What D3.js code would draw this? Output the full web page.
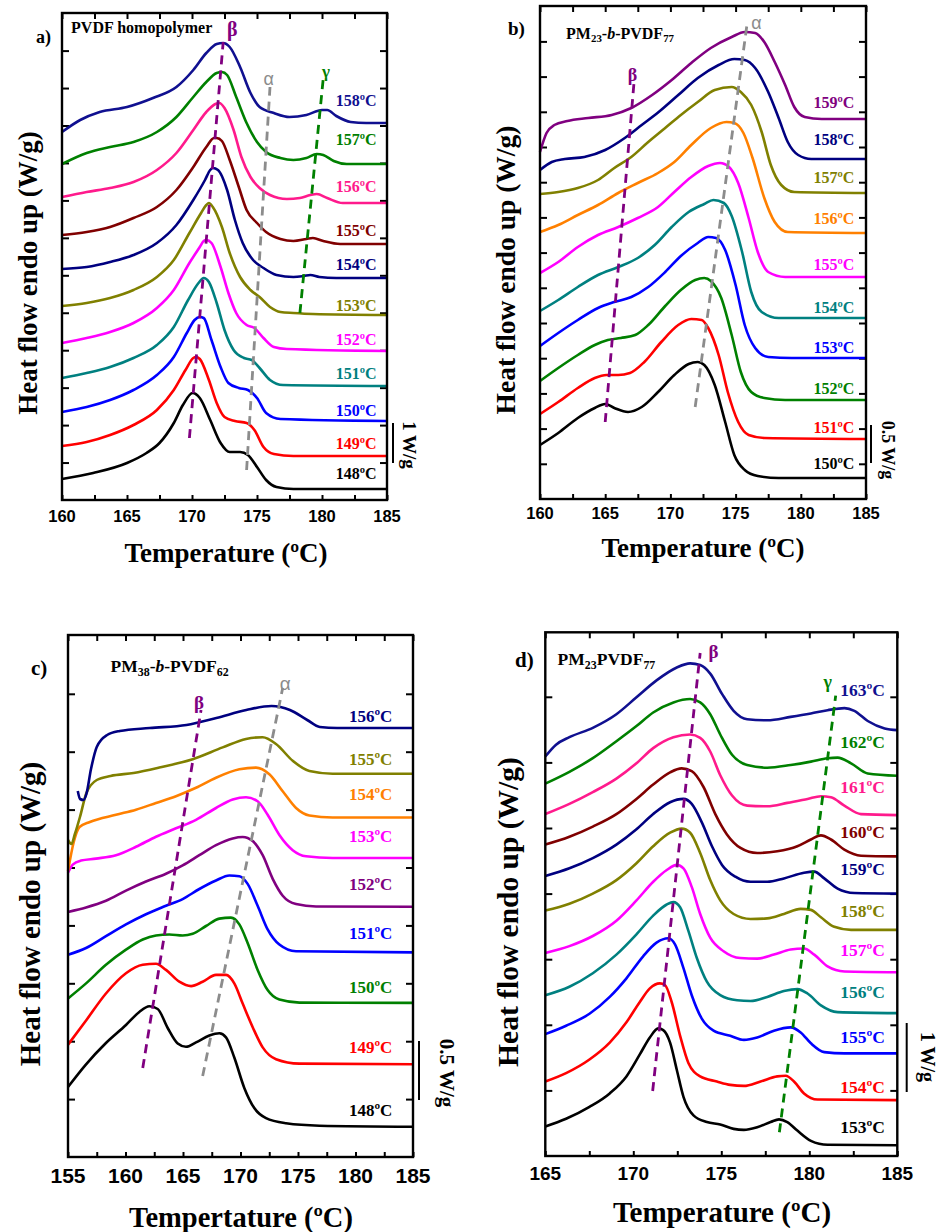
<!DOCTYPE html>
<html><head><meta charset="utf-8">
<script src="https://cdn.jsdelivr.net/npm/d3@7"></script>
<style>
body{margin:0;background:#fff}
svg{display:block}
text{font-family:"Liberation Serif","Times New Roman",serif;font-weight:bold}
</style>
</head><body>
<svg id="c" width="941" height="1232"></svg>
<script>
// ===== DATA (temperature ºC, heat flow in arbitrary units, 10 units ≈ vertical offsets as read) =====
// Panel a: PVDF homopolymer
const aLabels = ["148ºC","149ºC","150ºC","151ºC","152ºC","153ºC","154ºC","155ºC","156ºC","157ºC","158ºC"];
const a148 = [[160,2.1],[162.4,2.7],[165,3.7],[166.5,4.7],[167.5,5.7],[168.6,7.7],[169.3,9.5],[170.05,10.7],[170.6,10.2],[171.4,8.0],[172.2,5.7],[172.9,4.8],[173.7,4.8],[174.3,4.5],[175,3.3],[175.7,2.0],[176.5,1.3],[177.8,1.1],[185,1.1]];
const a149 = [[160,5.4],[161.9,5.8],[163.7,6.5],[165.5,7.5],[167.3,9.0],[168.6,11.0],[169.5,13.0],[170.1,14.2],[170.3,14.3],[170.6,14.1],[171.3,12.0],[171.9,9.7],[172.5,8.3],[173.3,7.9],[174.2,7.7],[174.8,7.0],[175.5,5.3],[176.3,4.6],[177.8,4.4],[185,4.4]];
const a150 = [[160,8.8],[161.9,9.3],[163.7,10.0],[165.5,11.0],[167.3,12.5],[168.6,14.3],[169.6,16.7],[170.2,18.0],[170.6,18.3],[170.9,18.2],[171.5,16.0],[172.2,13.3],[172.8,11.7],[173.6,11.2],[174.3,11.0],[175,10.2],[175.7,8.7],[176.8,8.1],[185,7.9]];
const a151 = [[160,12.2],[161.9,12.7],[163.7,13.3],[165.5,14.2],[167.3,15.5],[168.6,17.3],[169.7,20.0],[170.5,21.7],[170.9,22.2],[171.3,21.8],[171.9,19.7],[172.5,17.0],[173.2,15.0],[174,14.2],[174.6,14.0],[175.2,13.2],[176,12.0],[177,11.5],[185,11.4]];
const a152 = [[160,15.7],[161.9,16.2],[163.7,16.8],[165.5,17.7],[167.3,19.2],[168.6,21.0],[169.8,23.7],[170.6,25.3],[170.9,25.9],[171.1,26.0],[171.5,25.7],[172.2,23.3],[172.8,20.7],[173.4,18.7],[174.2,17.5],[174.8,17.2],[175.5,16.2],[176.3,15.3],[177.3,15.1],[185,14.9]];
const a153 = [[160,19.4],[161.9,19.7],[163.7,20.2],[165.5,21.0],[167.3,22.3],[168.6,24.0],[169.8,26.7],[170.7,28.7],[171.1,29.5],[171.3,29.7],[171.6,29.3],[172.3,27.3],[172.9,24.7],[173.7,22.3],[174.5,21.0],[175.2,20.3],[176,19.3],[176.8,18.8],[177.8,18.7],[179.3,18.6],[185,18.5]];
const a154 = [[160,23.1],[161.9,23.3],[163.7,23.8],[165.5,24.5],[167.3,25.7],[168.8,27.5],[170.1,30.0],[171,32.0],[171.4,33.0],[171.6,33.2],[172,33.0],[172.7,31.0],[173.3,28.0],[173.9,25.7],[174.7,24.0],[175.5,23.2],[176.5,22.5],[177.8,22.3],[178.6,22.4],[179.1,22.5],[179.8,22.3],[181.1,22.2],[185,22.2]];
const a155 = [[160,26.5],[161.9,26.8],[163.7,27.3],[165.5,28.2],[167.3,29.3],[168.8,31.0],[170.1,33.3],[171.1,35.3],[171.7,36.2],[171.9,36.2],[172.3,35.9],[172.9,34.0],[173.6,31.3],[174.2,29.0],[175,27.7],[175.7,26.8],[176.8,26.1],[177.8,25.9],[178.8,26.1],[179.3,26.2],[180.1,25.9],[181.4,25.6],[185,25.6]];
const a156 = [[160,30.3],[161.9,30.8],[163.7,31.2],[165.5,31.8],[167.3,33.0],[168.8,34.7],[170.1,37.0],[171.1,38.8],[171.8,39.6],[172.1,39.7],[172.5,39.2],[173.2,37.0],[173.8,34.3],[174.5,32.3],[175.2,31.2],[176,30.5],[177.3,30.1],[178.3,30.2],[179.1,30.5],[179.6,30.6],[180.4,30.2],[181.6,29.7],[185,29.7]];
const a157 = [[160,33.6],[161.9,34.7],[163.7,35.3],[165.5,35.8],[167.3,36.8],[168.8,38.3],[170.1,40.3],[171.1,41.8],[171.9,42.7],[172.3,42.8],[172.7,42.5],[173.4,40.3],[174.2,37.7],[175,35.8],[175.7,34.8],[176.8,34.2],[177.8,34.0],[178.8,34.2],[179.6,34.6],[180.1,34.5],[180.9,33.9],[181.9,33.6],[185,33.6]];
const a158 = [[160,36.8],[161.4,38.0],[162.9,38.8],[165,39.3],[167,40.2],[168.8,41.3],[170.1,43.0],[171.1,44.7],[171.9,45.6],[172.4,45.7],[172.9,45.3],[173.7,43.3],[174.5,40.7],[175.2,39.3],[176.3,38.7],[177.5,38.3],[178.8,38.5],[180,39.0],[180.4,39.0],[181.1,38.4],[182.2,37.8],[183.4,37.7],[185,37.7]];
const aCurves = [a148,a149,a150,a151,a152,a153,a154,a155,a156,a157,a158];
const aLabelV = [2.7,5.7,9.0,12.7,16.1,19.5,23.6,27.0,31.4,36.1,40.0];
const aGuideBeta = [[169.8,6.2],[172.4,45.8]];
const aGuideAlpha = [[174.2,3.0],[176.0,41.3]];
const aGuideGamma = [[178.3,18.7],[180.1,42.2]];

// Panel b: PM23-b-PVDF77
const bLabels = ["150ºC","151ºC","152ºC","153ºC","154ºC","155ºC","156ºC","157ºC","158ºC","159ºC"];
const b150 = [[160,5.4],[161.4,6.6],[162.9,8.1],[164.2,9.1],[165,9.5],[165.7,9.1],[166.75,8.7],[167.8,9.2],[169.05,10.7],[170.3,12.4],[171.4,13.5],[172.1,13.7],[172.6,13.4],[173.4,11.4],[174.2,7.7],[174.9,4.4],[175.7,2.9],[176.7,2.3],[178.3,2.1],[185,2.1]];
const b151 = [[160,8.5],[161.4,9.7],[162.9,11.1],[164.2,12.1],[165.1,12.4],[166,12.4],[166.9,12.6],[168,13.7],[169.3,15.7],[170.6,17.4],[171.6,18.0],[172.4,17.9],[172.9,17.1],[173.7,14.4],[174.4,10.7],[175.2,7.7],[176,6.4],[177.2,6.1],[185,6.0]];
const b152 = [[160,11.8],[161.4,13.1],[162.9,14.4],[164.2,15.4],[165.2,15.9],[166.2,16.1],[167.3,16.4],[168.3,17.4],[169.6,19.3],[170.8,20.9],[171.9,21.9],[172.6,22.1],[173.1,21.8],[173.9,20.1],[174.7,16.4],[175.4,12.7],[176.2,10.7],[177.2,10.1],[178.8,9.9],[185,9.9]];
const b153 = [[160,15.3],[161.4,16.6],[162.9,17.9],[164.45,19.1],[165.7,19.7],[167,20.2],[168.3,21.2],[169.6,22.7],[170.8,24.3],[172.1,25.6],[172.9,26.2],[173.5,26.1],[174.2,24.9],[175,21.4],[175.7,17.4],[176.5,15.1],[177.5,14.2],[179.3,14.1],[185,14.1]];
const b154 = [[160,18.8],[161.4,19.9],[162.9,21.2],[164.45,22.4],[166,23.2],[167.5,24.1],[168.8,25.4],[170.1,27.2],[171.4,28.7],[172.6,29.5],[173.3,29.9],[174.1,29.6],[174.7,28.3],[175.5,24.7],[176.2,20.7],[177,18.7],[178.3,18.1],[185,18.1]];
const b155 = [[160,22.6],[161.4,23.7],[162.9,25.2],[164.45,26.4],[166,27.2],[167.5,28.1],[169.05,29.2],[170.3,30.7],[171.6,32.2],[172.9,33.3],[173.8,33.6],[174.5,33.2],[175.2,31.6],[176,28.1],[176.7,24.7],[177.5,22.7],[178.8,22.2],[185,22.2]];
const b156 = [[160,26.7],[161.4,27.4],[162.9,28.4],[164.45,29.4],[166,30.6],[167.5,31.6],[169.05,32.6],[170.3,33.7],[171.6,35.4],[173.1,37.1],[174.3,37.7],[174.9,37.6],[175.6,36.6],[176.3,34.1],[177.2,30.1],[178,27.7],[179,26.7],[185,26.6]];
const b157 = [[160,30.5],[161.4,30.7],[162.9,31.1],[164.45,31.9],[165.7,33.1],[167,34.2],[168.3,35.7],[169.6,37.1],[170.8,38.4],[172.1,39.7],[173.4,40.9],[174.7,41.2],[175.4,40.7],[176.2,39.4],[177,36.7],[177.7,33.4],[178.5,31.4],[179.5,30.7],[185,30.6]];
const b158 = [[160,32.9],[160.9,33.7],[161.9,34.0],[163.4,34.2],[165,34.9],[166.5,36.1],[167.8,37.4],[169.1,38.7],[170.6,40.4],[172.1,42.1],[173.7,43.4],[174.9,44.0],[175.7,43.9],[176.5,43.1],[177.5,40.7],[178.3,38.1],[179,35.7],[179.8,34.4],[180.8,34.0],[185,34.0]];
const b159 = [[160,34.7],[160.5,36.6],[161.1,37.4],[162.1,37.8],[163.7,38.1],[165.5,38.4],[167,39.1],[168.6,40.4],[170.1,41.9],[171.6,43.6],[173.1,45.1],[174.7,46.2],[175.7,46.7],[176.5,46.6],[177.2,45.7],[178,43.7],[178.8,41.4],[179.5,39.2],[180.3,38.2],[181.6,38.0],[185,38.0]];
const bCurves = [b150,b151,b152,b153,b154,b155,b156,b157,b158,b159];
const bLabelV = [3.6,7.2,11.1,15.2,19.2,23.5,28.1,32.2,36.0,39.7];
const bGuideAlpha = [[171.9,9.2],[175.9,47.7]];
const bGuideBeta = [[165.0,7.7],[167.2,41.5]];

// Panel c: PM38-b-PVDF62
const cLabels = ["148ºC","149ºC","150ºC","151ºC","152ºC","153ºC","154ºC","155ºC","156ºC"];
const c148 = [[155,7.0],[156.57,9.27],[158.3,11.4],[160.04,13.2],[161.2,14.5],[162.07,15.07],[162.8,14.8],[163.67,12.9],[164.54,11.35],[165.26,11.02],[166.13,11.46],[167.29,12.14],[168.16,12.37],[168.74,11.97],[169.46,9.95],[170.33,6.91],[171.2,4.89],[172.22,3.88],[173.96,3.37],[176.86,3.13],[185,3.03]];
const c149 = [[155,11.23],[156.57,13.65],[158.3,16.35],[160.04,18.37],[161.5,19.22],[162.65,19.32],[163.52,18.71],[164.68,17.53],[165.7,17.09],[166.71,17.53],[167.87,18.21],[168.74,18.21],[169.46,17.36],[170.19,15.34],[171.06,12.98],[171.93,10.96],[173.09,9.78],[175.12,9.34],[185,9.27]];
const c150 = [[155,15.85],[156.57,17.36],[158.3,19.22],[160.04,20.73],[161.5,21.75],[162.65,22.15],[163.81,22.25],[164.97,22.15],[165.84,22.32],[167,23.1],[168.16,23.84],[169.17,23.94],[169.9,23.26],[170.62,21.41],[171.49,18.71],[172.36,16.69],[173.38,15.74],[175.12,15.44],[185,15.41]];
const c151 = [[155,20.23],[156.57,20.9],[158.3,22.08],[160.04,23.26],[161.78,24.28],[163.52,25.12],[164.97,25.79],[166.42,26.8],[167.87,27.65],[169.03,28.15],[169.9,28.08],[170.62,27.31],[171.49,25.12],[172.36,22.76],[173.38,21.24],[174.83,20.57],[185,20.46]];
const c152 = [[155,24.51],[156.57,24.95],[158.3,25.62],[160.04,26.64],[161.78,27.55],[163.52,28.32],[164.97,29.16],[166.42,30.18],[167.87,31.19],[169.32,31.86],[170.19,32.0],[171.06,31.59],[171.93,30.18],[172.8,27.82],[173.67,26.13],[174.83,25.29],[176.57,25.05],[185,25.02]];
const c153 = [[155,28.42],[155.41,29.23],[156.13,29.64],[157.43,29.84],[159.17,30.18],[160.91,31.02],[162.65,32.03],[164.39,32.87],[166.13,33.72],[167.87,34.9],[169.32,35.74],[170.48,35.97],[171.49,35.57],[172.36,34.22],[173.38,32.2],[174.54,30.68],[175.7,30.07],[178.01,29.9],[185,29.9]];
const c154 = [[155,28.6],[155.5,31.5],[156,33.0],[156.9,33.5],[159.17,34.22],[160.91,34.73],[162.65,35.4],[164.39,36.08],[166.13,36.92],[167.87,37.93],[169.9,38.77],[171.35,38.94],[172.51,38.27],[173.67,36.58],[174.83,34.9],[175.99,34.15],[178.01,33.95],[185,33.95]];
const c155 = [[155,31.7],[155.3,31.3],[155.6,32.3],[156.04,34.0],[156.6,36.4],[157.5,37.7],[158.7,38.1],[160.7,38.4],[162.94,38.94],[165.84,39.78],[168.45,40.96],[170.48,41.81],[171.93,41.98],[173.09,41.3],[174.54,39.62],[175.99,38.6],[178.01,38.33],[185,38.33]];
const c156 = [[155.85,36.6],[156.05,35.8],[156.35,35.7],[156.6,36.3],[157.0,38.8],[157.5,41.0],[158.4,42.2],[159.5,42.6],[162.1,42.9],[165.3,43.2],[167.9,43.9],[170.5,44.7],[172.7,45.1],[174.3,44.7],[175.8,43.7],[176.9,43.0],[178.4,42.9],[185,42.9]];
const cCurves = [c148,c149,c150,c151,c152,c153,c154,c155,c156];
const cLabelV = [4.7,11.0,17.0,22.4,27.3,32.1,36.3,39.8,44.1];
const cGuideBeta = [[161.5,8.9],[166.57,44.7]];
const cGuideAlpha = [[166.71,8.1],[173.67,46.9]];

// Panel d: PM23PVDF77
const dLabels = ["153ºC","154ºC","155ºC","156ºC","157ºC","158ºC","159ºC","160ºC","161ºC","162ºC","163ºC"];
const d153 = [[165,2.95],[166.18,3.72],[167.51,4.91],[168.66,6.26],[169.61,7.96],[170.37,10.16],[170.94,11.85],[171.42,12.76],[171.7,12.59],[172.09,11.34],[172.47,8.63],[172.85,5.92],[173.42,4.06],[174.18,3.39],[174.94,3.15],[175.7,2.71],[176.28,2.61],[177.04,2.88],[177.8,3.39],[178.28,3.66],[178.75,3.39],[179.32,2.54],[180.09,1.52],[181.04,1.12],[185,1.08]];
const d154 = [[165,7.45],[166.18,8.29],[167.51,9.65],[168.66,11.34],[169.61,13.37],[170.37,15.4],[170.94,16.76],[171.51,17.26],[171.8,17.1],[172.18,15.4],[172.66,12.02],[173.13,9.31],[173.8,7.96],[174.75,7.45],[175.51,7.11],[176.28,7.01],[177.23,7.45],[178.18,7.96],[178.66,8.02],[179.13,7.45],[179.7,6.26],[180.47,5.65],[185,5.59]];
const d155 = [[165,12.19],[166.18,13.03],[167.51,14.22],[168.66,15.91],[169.61,17.77],[170.56,19.97],[171.32,21.33],[171.99,21.77],[172.37,21.16],[172.85,18.79],[173.32,16.08],[173.9,13.71],[174.56,12.53],[175.51,12.02],[176.28,11.61],[177.04,11.85],[177.99,12.53],[178.94,12.86],[179.51,12.36],[180.09,11.27],[180.85,10.39],[182,10.26],[185,10.26]];
const d156 = [[165,16.08],[166.37,16.93],[167.7,18.28],[169.04,20.14],[170.18,22.17],[171.13,24.04],[171.9,25.15],[172.28,25.39],[172.66,24.88],[173.13,22.51],[173.61,19.8],[174.18,17.43],[174.94,16.08],[175.9,15.57],[176.66,15.5],[177.61,15.91],[178.56,16.49],[179.32,16.69],[179.9,16.25],[180.66,15.06],[181.61,14.39],[185,14.29]];
const d157 = [[165,20.31],[166.37,20.99],[167.7,22.0],[169.04,23.53],[170.18,25.56],[171.13,27.42],[171.9,28.6],[172.47,29.11],[172.85,28.77],[173.32,26.91],[173.8,24.2],[174.37,21.83],[175.13,20.48],[176.08,19.8],[177.04,19.74],[177.99,20.14],[178.94,20.65],[179.7,20.75],[180.28,20.14],[181.04,18.96],[182,18.45],[185,18.38]];
const d158 = [[165,24.54],[166.37,25.22],[167.7,26.24],[169.04,27.59],[170.18,29.28],[171.13,30.98],[172.09,32.33],[172.75,32.74],[173.23,32.33],[173.8,30.3],[174.37,27.59],[174.94,25.56],[175.7,24.2],[176.66,23.7],[177.61,23.76],[178.56,24.2],[179.51,24.71],[180.09,24.61],[180.66,23.87],[181.42,22.92],[182.37,22.61],[185,22.61]];
const d159 = [[165,28.0],[166.37,28.77],[167.7,29.79],[169.04,31.14],[170.18,32.67],[171.13,34.19],[172.09,35.38],[172.85,35.71],[173.32,35.21],[173.9,33.34],[174.47,30.97],[175.04,29.11],[175.8,27.93],[176.66,27.42],[177.61,27.42],[178.56,27.76],[179.7,28.33],[180.28,28.44],[180.85,27.76],[181.61,26.74],[182.56,26.3],[185,26.24]];
const d160 = [[165,31.14],[166.37,31.92],[167.7,32.94],[169.04,34.19],[170.18,35.71],[171.13,37.14],[172.09,38.36],[172.75,38.76],[173.32,38.49],[173.99,36.9],[174.66,34.19],[175.32,32.16],[176.09,30.81],[177.04,30.3],[178.18,30.47],[179.32,30.98],[180.09,31.65],[180.66,32.06],[181.23,31.65],[181.99,30.64],[182.94,30.03],[185,29.96]];
const d161 = [[165,34.19],[166.37,35.21],[167.7,36.39],[169.04,37.74],[170.18,39.27],[171.13,40.79],[172.28,41.88],[173.23,42.15],[173.8,41.81],[174.37,40.45],[174.94,38.08],[175.61,36.05],[176.47,35.04],[177.61,34.97],[178.75,35.31],[179.9,35.71],[180.66,35.98],[181.23,35.88],[181.99,35.04],[182.94,34.19],[185,34.09]];
const d162 = [[165,37.24],[166.37,38.42],[167.7,39.78],[169.04,41.47],[170.18,42.99],[171.13,44.35],[172.28,45.36],[173.23,45.7],[173.8,45.36],[174.37,44.18],[174.94,42.15],[175.61,40.12],[176.47,39.1],[177.61,38.83],[178.94,39.1],[180.09,39.44],[181.04,39.78],[181.61,39.84],[182.37,39.27],[183.32,38.25],[185,38.02]];
const d163 = [[165,39.95],[165.61,41.13],[166.37,41.88],[167.7,42.82],[169.04,44.18],[170.18,45.87],[171.32,47.56],[172.47,48.85],[173.23,49.26],[173.8,49.09],[174.37,48.24],[175.04,46.21],[175.7,44.52],[176.47,43.67],[177.61,43.57],[178.94,43.91],[180.09,44.25],[181.04,44.58],[182,44.79],[182.56,44.52],[183.32,43.5],[184.28,42.76],[185,42.59]];
const dCurves = [d153,d154,d155,d156,d157,d158,d159,d160,d161,d162,d163];
const dLabelV = [2.9,6.9,11.9,16.4,20.6,24.5,28.7,32.4,36.9,41.4,46.6];
const dGuideBeta = [[171.1,6.5],[173.8,50.3]];
const dGuideGamma = [[178.3,2.37],[181.5,46.04]];

// Tick values
const xTicksAB = [160,165,170,175,180,185];
const xTicksC = [155,160,165,170,175,180,185];
const xTicksD = [165,170,175,180,185];

// ===== STYLE =====
const NAVY="#000080", GREEN="#008000", PINK="#ff1a8c", MAROON="#800000", OLIVE="#808000",
      MAG="#ff00ff", TEAL="#008080", BLUE="#0000ff", RED="#ff0000", BLACK="#000000",
      PURPLE="#800080", ORANGE="#ff8000", GRAY="#8c8c8c";
const aColors=[BLACK,RED,BLUE,TEAL,MAG,OLIVE,NAVY,MAROON,PINK,GREEN,"#101090"];
const bColors=[BLACK,RED,GREEN,BLUE,TEAL,MAG,ORANGE,OLIVE,NAVY,PURPLE];
const cColors=[BLACK,RED,GREEN,BLUE,PURPLE,MAG,ORANGE,OLIVE,NAVY];
const dColors=[BLACK,RED,BLUE,TEAL,MAG,OLIVE,NAVY,MAROON,PINK,GREEN,"#101090"];

const svg=d3.select("#c");

function drawPanel(P){
  const x=d3.scaleLinear().domain(P.xDom).range([P.box.l,P.box.r]);
  const y=d3.scaleLinear().domain([0,P.yTop]).range([P.box.b,P.box.t]);
  const g=svg.append("g");
  const minors=d3.range(P.xDom[0],P.xDom[1]+0.01,2.5);
  const clean=s=>{s.select(".domain").remove();s.selectAll(".tick line").attr("stroke","#000").attr("stroke-width",2);s.selectAll(".tick text").remove();};
  g.append("g").attr("transform",`translate(0,${P.box.b})`).call(d3.axisBottom(x).tickValues(minors).tickSize(-5)).call(clean);
  g.append("g").attr("transform",`translate(0,${P.box.t})`).call(d3.axisTop(x).tickValues(minors).tickSize(-6)).call(clean);
  g.append("g").attr("transform",`translate(${P.box.l},0)`).call(d3.axisLeft(y).tickValues(P.yTicks).tickSize(-7)).call(clean);
  g.append("g").attr("transform",`translate(${P.box.r},0)`).call(d3.axisRight(y).tickValues(P.yTicks).tickSize(-7)).call(clean);
  // tick labels
  g.selectAll("text.xl").data(P.xTicks).join("text").attr("class","xl")
    .attr("x",d=>x(d)).attr("y",P.tickY).attr("text-anchor","middle").attr("dominant-baseline","central")
    .style("font-family","'Liberation Sans',Arial,sans-serif").style("font-size",P.tickFs+"px").text(d=>d);
  // curves
  const line=d3.line().x(d=>x(d[0])).y(d=>y(d[1])).curve(d3.curveMonotoneX);
  g.selectAll("path.cv").data(P.curves).join("path").attr("class","cv").attr("d",line)
    .attr("fill","none").attr("stroke",(d,i)=>P.colors[i]).attr("stroke-width",2.6).attr("stroke-linejoin","round");
  // guides
  const gl=d3.line().x(d=>x(d[0])).y(d=>y(d[1]));
  P.guides.forEach(gd=>{
    g.append("path").attr("d",gl(gd.pts)).attr("fill","none").attr("stroke",gd.color)
      .attr("stroke-width",2.8).attr("stroke-dasharray","9,6");
  });
  P.greek.forEach(t=>{
    g.append("text").attr("x",x(t.T)).attr("y",y(t.v)).attr("text-anchor","middle").attr("dominant-baseline","central")
      .attr("fill",t.color).style("font-size",t.fs+"px").style("font-weight",t.w||"bold")
      .style("font-family",t.ff||null).text(t.s);
  });
  // curve labels
  g.selectAll("text.lb").data(P.labels).join("text").attr("class","lb")
    .attr("x",x(P.labelT)).attr("y",(d,i)=>y(P.labelV[i])).attr("text-anchor","end").attr("dominant-baseline","central")
    .attr("fill",(d,i)=>P.colors[i]).style("font-size",P.labelFs+"px").text(d=>d);
  // frame
  g.append("rect").attr("x",P.box.l).attr("y",P.box.t).attr("width",P.box.r-P.box.l).attr("height",P.box.b-P.box.t)
    .attr("fill","none").attr("stroke","#000").attr("stroke-width",2.4);
  // title (sample name)
  const tt=g.append("text").attr("x",x(P.title.T)).attr("y",y(P.title.v)).attr("dominant-baseline","central")
    .style("font-size",P.title.fs+"px");
  P.title.parts.forEach(p=>{
    const s=tt.append("tspan").text(p[0]);
    if(p[1]==="sub"){s.attr("dy",P.title.fs*0.32).style("font-size",(P.title.fs*0.68)+"px");}
    if(p[1]==="up"){s.attr("dy",-P.title.fs*0.32);}
    if(p[1]==="i"){s.style("font-style","italic");}
  });
  // panel tag
  g.append("text").attr("x",P.tag.x).attr("y",P.tag.y).attr("dominant-baseline","central").style("font-size",P.tag.fs+"px").text(P.tag.s);
  // axis titles
  g.append("text").attr("x",P.xt.x).attr("y",P.xt.y).attr("text-anchor","middle").attr("dominant-baseline","central")
    .style("font-size",P.xt.fs+"px").text(P.xt.s);
  g.append("text").attr("transform",`translate(${P.yt.x},${P.yt.y}) rotate(-90)`).attr("text-anchor","middle").attr("dominant-baseline","central")
    .style("font-size",P.yt.fs+"px").text("Heat flow endo up (W/g)");
  // scale bar
  g.append("line").attr("x1",P.bar.x).attr("x2",P.bar.x).attr("y1",y(P.bar.v0)).attr("y2",y(P.bar.v1))
    .attr("stroke","#000").attr("stroke-width",2);
  g.append("text").attr("transform",`translate(${P.bar.tx},${P.bar.ty}) rotate(90)`).attr("text-anchor","middle").attr("dominant-baseline","central")
    .style("font-size",P.bar.fs+"px").text(P.bar.s);
}

drawPanel({
  box:{l:62,r:387,t:13,b:500}, xDom:[160,185], yTop:48.7,
  yTicks:d3.range(1,13).map(k=>k*3.745), xTicks:xTicksAB, tickY:516, tickFs:16.5,
  curves:aCurves, colors:aColors, labels:aLabels, labelV:aLabelV, labelT:184.2, labelFs:16,
  guides:[{pts:aGuideBeta,color:PURPLE},{pts:aGuideAlpha,color:GRAY},{pts:aGuideGamma,color:GREEN}],
  greek:[{s:"β",T:173.1,v:47.1,color:PURPLE,fs:20},{s:"α",T:175.9,v:42.1,color:GRAY,fs:18,w:"normal",ff:"'Liberation Sans',sans-serif"},{s:"γ",T:180.3,v:42.9,color:GREEN,fs:17}],
  title:{T:160.7,v:47.3,fs:16,parts:[["PVDF homopolymer",""]]},
  tag:{s:"a)",x:36,y:37,fs:18},
  xt:{s:"Temperature (ºC)",x:226,y:553,fs:27},
  yt:{x:28,y:273,fs:27},
  bar:{x:393,v0:3.7,v1:7.7,tx:409,ty:445,fs:19,s:"1 W/g"}
});
drawPanel({
  box:{l:540,r:866,t:6,b:499}, xDom:[160,185], yTop:49.3,
  yTicks:d3.range(1,14).map(k=>k*3.52), xTicks:xTicksAB, tickY:513, tickFs:16.5,
  curves:bCurves, colors:bColors, labels:bLabels, labelV:bLabelV, labelT:184.1, labelFs:16,
  guides:[{pts:bGuideAlpha,color:GRAY},{pts:bGuideBeta,color:PURPLE}],
  greek:[{s:"α",T:176.6,v:47.6,color:GRAY,fs:18,w:"normal",ff:"'Liberation Sans',sans-serif"},{s:"β",T:167.1,v:42.4,color:PURPLE,fs:18}],
  title:{T:162,v:46.6,fs:16,parts:[["PM",""],["23","sub"],["-","up"],["b","i"],["-PVDF",""],["77","sub"]]},
  tag:{s:"b)",x:508,y:28,fs:19},
  xt:{s:"Temperature (ºC)",x:703,y:548,fs:27},
  yt:{x:505,y:270,fs:27.5},
  bar:{x:871,v0:3.6,v1:7.4,tx:888,ty:450,fs:18,s:"0.5 W/g"}
});
drawPanel({
  box:{l:68,r:413,t:635,b:1157}, xDom:[155,185], yTop:52.2,
  yTicks:d3.range(1,9).map(k=>k*5.79), xTicks:xTicksC, tickY:1175, tickFs:21,
  curves:cCurves, colors:cColors, labels:cLabels, labelV:cLabelV, labelT:183.2, labelFs:17,
  guides:[{pts:cGuideBeta,color:PURPLE},{pts:cGuideAlpha,color:GRAY}],
  greek:[{s:"β",T:166.4,v:45.5,color:PURPLE,fs:19},{s:"α",T:173.9,v:47.4,color:GRAY,fs:19,w:"normal",ff:"'Liberation Sans',sans-serif"}],
  title:{T:158.7,v:49.1,fs:17.5,parts:[["PM",""],["38","sub"],["-","up"],["b","i"],["-PVDF",""],["62","sub"]]},
  tag:{s:"c)",x:31,y:668,fs:21},
  xt:{s:"Tempertature (ºC)",x:241,y:1217,fs:28.5},
  yt:{x:30,y:914,fs:29},
  bar:{x:419,v0:5.7,v1:11.6,tx:447,ty:1073,fs:21,s:"0.5 W/g"}
});
drawPanel({
  box:{l:545.3,r:897.3,t:632.3,b:1156}, xDom:[165,185], yTop:52.37,
  yTicks:d3.range(1,8).map(k=>k*6.56), xTicks:xTicksD, tickY:1173, tickFs:19,
  curves:dCurves, colors:dColors, labels:dLabels, labelV:dLabelV, labelT:184.3, labelFs:17.5,
  guides:[{pts:dGuideBeta,color:PURPLE},{pts:dGuideGamma,color:GREEN}],
  greek:[{s:"β",T:174.56,v:50.5,color:PURPLE,fs:19},{s:"γ",T:181.04,v:47.4,color:GREEN,fs:18}],
  title:{T:165.7,v:49.7,fs:17.5,parts:[["PM",""],["23","sub"],["PVDF","up"],["77","sub"]]},
  tag:{s:"d)",x:515,y:660,fs:21},
  xt:{s:"Temperature (ºC)",x:722,y:1212,fs:29},
  yt:{x:508,y:912,fs:29.5},
  bar:{x:906.7,v0:6.4,v1:13.3,tx:928,ty:1057,fs:20,s:"1 W/g"}
});
</script>
</body></html>
